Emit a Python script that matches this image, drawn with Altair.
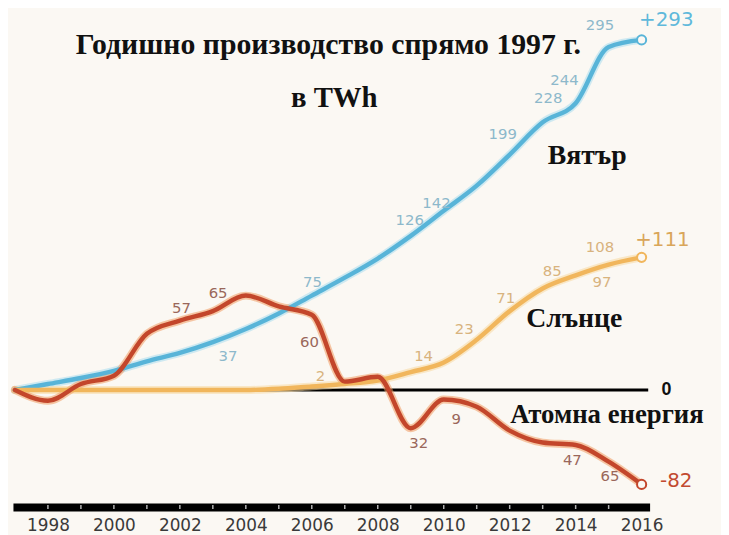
import altair as alt
import pandas as pd

# ---------------- data ----------------
years = list(range(1997, 2017))
wind = [0, 5, 10, 16, 24, 31, 40, 51, 64, 79, 94, 110, 129, 150, 171, 197, 224, 240, 287, 293]
solar = [0, 0, 0, 0, 0, 0, 0, 0, 1, 3, 5, 8, 15, 23, 42, 66, 85, 96, 105, 111]
nuclear = [0, -9, 5, 12, 47, 58, 66, 79, 70, 63, 7, 11, -32, -8, -14, -34, -44, -46, -60, -79]

series_names = ["Вятър", "Слънце", "Атомна енергия"]
end_labels = ["+293", "+111", "-82"]

wind_lbl = ["37", "75", "126", "142", "199", "228", "244", "295"]
wind_lbl_x = [2003.46, 2006.02, 2008.97, 2009.78, 2011.79, 2013.17, 2013.66, 2014.74]
wind_lbl_y = [28.2, 90.5, 141.9, 156.8, 214.1, 244.0, 259.8, 305.4]

solar_lbl = ["2", "14", "23", "71", "85", "97", "108"]
solar_lbl_x = [2006.26, 2009.39, 2010.62, 2011.88, 2013.29, 2014.80, 2014.74]
solar_lbl_y = [11.6, 28.2, 50.6, 77.2, 99.6, 90.5, 119.5]

nuclear_lbl = ["57", "65", "60", "32", "9", "47", "65"]
nuclear_lbl_x = [2002.05, 2003.16, 2005.93, 2009.24, 2010.38, 2013.90, 2015.04]
nuclear_lbl_y = [68.9, 81.3, 39.8, -44.8, -24.1, -58.9, -72.2]

end_lbl_x = [2016.75, 2016.63, 2017.05]
end_lbl_y = [309.5, 125.3, -76.3]

name_x = [2014.35, 2013.96, 2014.95]
name_y = [189.2, 53.1, -28.0]
name_size = [28, 28, 27]

title_line1 = "Годишно производство спрямо 1997 г."
title_line2 = "в TWh"
axis_years = list(range(1998, 2017))
tick_years = list(range(1998, 2016))

# ---------------- styles ----------------
BG = "#fbf8f3"
line_colors = {"Вятър": "#58b4d8", "Слънце": "#f1b65c", "Атомна енергия": "#c3462b"}
halo_colors = {"Вятър": "#a9dcef", "Слънце": "#f8d9a0", "Атомна енергия": "#f09a60"}
num_colors = {"Вятър": "#8db8cb", "Слънце": "#d8b37e", "Атомна енергия": "#9a675a"}
end_colors = {"Вятър": "#5fb9db", "Слънце": "#d9a65a", "Атомна енергия": "#c24a30"}

# ---------------- tables ----------------
rows = []
for name, vals in zip(series_names, [wind, solar, nuclear]):
    for y, v in zip(years, vals):
        rows.append({"series": name, "year": y, "value": v,
                     "clr": line_colors[name], "halo": halo_colors[name]})
lines_df = pd.DataFrame(rows)
last_df = lines_df[lines_df["year"] == years[-1]].copy()

lrows = []
for name, txt, xs, ys in zip(series_names,
                             [wind_lbl, solar_lbl, nuclear_lbl],
                             [wind_lbl_x, solar_lbl_x, nuclear_lbl_x],
                             [wind_lbl_y, solar_lbl_y, nuclear_lbl_y]):
    for t, x, y in zip(txt, xs, ys):
        lrows.append({"text": t, "x": x, "y": y, "clr": num_colors[name]})
num_df = pd.DataFrame(lrows)

end_df = pd.DataFrame({"text": end_labels, "x": end_lbl_x, "y": end_lbl_y,
                       "clr": [end_colors[n] for n in series_names]})
name_df = pd.DataFrame({"text": series_names, "x": name_x, "y": name_y, "fs": name_size})
zero_df = pd.DataFrame({"x": [years[0]], "x2": [2016.2], "y": [0], "lbl": ["0"], "lx": [2016.75]})
tick_df = pd.DataFrame({"year": tick_years})

xscale = alt.Scale(domain=[1996.94, 2016.242], nice=False, zero=False)
yscale = alt.Scale(domain=[-97.93, 317.84], nice=False, zero=False)

x_axis = alt.Axis(
    values=axis_years, format="d",
    labelExpr="datum.value % 2 == 0 ? datum.label : ''",
    domainWidth=8, domainColor="#000",
    ticks=True, tickColor=BG, tickOpacity=0, tickSize=4, tickWidth=1,
    labelFontSize=17, labelFont="DejaVu Sans", labelColor="#3a3a3a",
    labelPadding=7, labelOverlap=False, labelFlush=False,
    grid=False, title=None,
)

def X(field):
    return alt.X(field, type="quantitative", scale=xscale, axis=x_axis)

def Y(field):
    return alt.Y(field, type="quantitative", scale=yscale, axis=None)

zero = alt.Chart(zero_df).mark_rule(color="#000", strokeWidth=3).encode(
    x=X("x"), x2="x2", y=Y("y"))
zero_lbl = alt.Chart(zero_df).mark_text(
    font="Liberation Sans", fontWeight="bold", fontSize=18, color="#111",
    align="center", baseline="middle").encode(x=X("lx"), y=Y("y"), text="lbl")

halo = alt.Chart(lines_df).mark_line(interpolate="monotone", strokeWidth=8, strokeCap="round", opacity=0.55).encode(
    x=X("year"), y=Y("value"),
    color=alt.Color("halo:N", scale=None),
    detail="series:N",
    order=alt.Order("year:Q"),
)

lines = alt.Chart(lines_df).mark_line(interpolate="monotone", strokeWidth=4.5, strokeCap="round").encode(
    x=X("year"), y=Y("value"),
    color=alt.Color("clr:N", scale=None),
    detail="series:N",
    order=alt.Order("year:Q"),
)

ticks = alt.Chart(tick_df).mark_tick(color="#ffffff", thickness=1.5, size=4, orient="vertical").encode(
    x=X("year"), y=alt.value(501))

circles = alt.Chart(last_df).mark_point(
    shape="circle", filled=True, fill=BG, size=85, strokeWidth=2, opacity=1).encode(
    x=X("year"), y=Y("value"), stroke=alt.Stroke("clr:N", scale=None))

nums = alt.Chart(num_df).mark_text(font="DejaVu Sans", fontSize=15, align="center", baseline="middle").encode(
    x=X("x"), y=Y("y"), text="text:N", color=alt.Color("clr:N", scale=None))

ends = alt.Chart(end_df).mark_text(font="DejaVu Sans", fontSize=20, align="center", baseline="middle").encode(
    x=X("x"), y=Y("y"), text="text:N", color=alt.Color("clr:N", scale=None))

names = alt.Chart(name_df).mark_text(font="Liberation Serif", fontWeight="bold",
                                     color="#111", align="center", baseline="alphabetic").encode(
    x=X("x"), y=Y("y"), text="text:N", size=alt.Size("fs:Q", scale=None))

title1 = alt.Chart(pd.DataFrame({"t": [title_line1]})).mark_text(
    font="Liberation Serif", fontWeight="bold", fontSize=30, color="#111",
    align="center", baseline="middle").encode(x=alt.value(318), y=alt.value(35), text="t:N")
title2 = alt.Chart(pd.DataFrame({"t": [title_line2]})).mark_text(
    font="Liberation Serif", fontWeight="bold", fontSize=29, color="#111",
    align="center", baseline="middle").encode(x=alt.value(324), y=alt.value(89), text="t:N")

chart = alt.layer(zero, halo, lines, ticks, circles, nums, ends, names, zero_lbl, title1, title2).properties(
    width=642, height=501,
    autosize=alt.AutoSizeParams(type="none"),
    padding={"left": 5, "right": 72, "top": 0, "bottom": 26},
    background=BG,
).configure_view(stroke=None)

chart.save("out.html", embed_options={"renderer": "svg", "actions": False})
